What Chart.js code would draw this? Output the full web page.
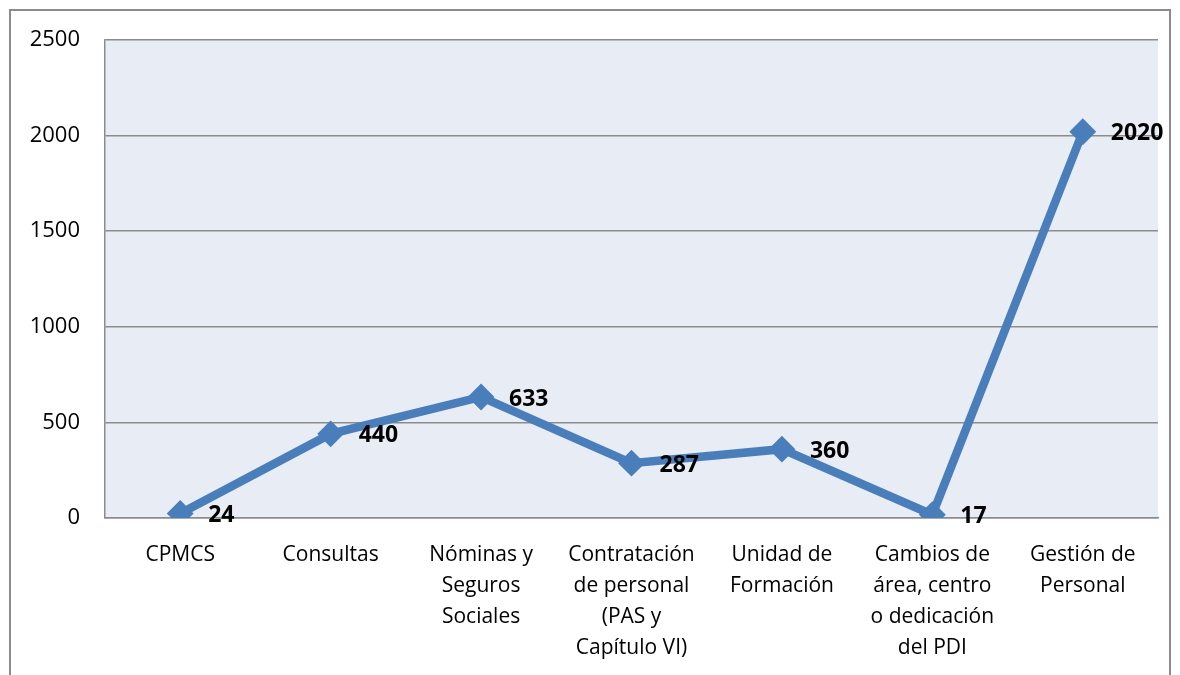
<!DOCTYPE html>
<html>
<head>
<meta charset="utf-8">
<script src="https://cdn.jsdelivr.net/npm/chart.js@4.4.1/dist/chart.umd.min.js"></script>
<style>
  html,body{margin:0;padding:0;background:#fff;}
  #wrap{position:absolute;left:0;top:0;width:1180px;height:675px;}
</style>
</head>
<body>
<div id="wrap"><canvas id="c"></canvas></div>
<script>
// datos
const categorias=[
  ['CPMCS'],
  ['Consultas'],
  ['Nóminas y','Seguros','Sociales'],
  ['Contratación','de personal','(PAS y','Capítulo VI)'],
  ['Unidad de','Formación'],
  ['Cambios de','área, centro','o dedicación','del PDI'],
  ['Gestión de','Personal']
];
const valores=[24,440,633,287,360,17,2020];
const ticksY=[0,500,1000,1500,2000,2500];

const FONT="'Open Sans', Lato, sans-serif";

// fondo del área y marco exterior
const fondo={
  id:'fondo',
  beforeDraw(chart){
    const {ctx,chartArea:a}=chart;
    ctx.save();
    ctx.strokeStyle='#8c8c8c';
    ctx.lineWidth=2;
    ctx.strokeRect(10,10,1160,700);
    ctx.fillStyle='#e8edf5';
    ctx.fillRect(a.left,a.top,a.right-a.left,a.bottom-a.top);
    ctx.restore();
  }
};

// etiquetas de datos a la derecha del punto
const etiquetas={
  id:'etiquetas',
  afterDatasetsDraw(chart){
    const {ctx}=chart;
    const meta=chart.getDatasetMeta(0);
    ctx.save();
    ctx.font="bold 23px "+FONT;
    ctx.fillStyle='#000';
    ctx.textAlign='left';
    ctx.textBaseline='middle';
    meta.data.forEach((p,i)=>{
      ctx.fillText(String(valores[i]),p.x+28,p.y+2);
    });
    ctx.restore();
  }
};

new Chart(document.getElementById('c'),{
  type:'line',
  data:{
    labels:categorias,
    datasets:[{
      data:valores,
      borderColor:'#4a7ebb',
      backgroundColor:'#4a7ebb',
      borderWidth:8.5,
      tension:0,
      pointStyle:'rectRot',
      pointRadius:12,
      pointBorderWidth:2,
      pointBackgroundColor:'#4a7ebb',
      pointBorderColor:'#4a7ebb'
    }]
  },
  options:{
    responsive:true,
    maintainAspectRatio:false,
    animation:false,
    layout:{padding:{top:40,right:22,left:0,bottom:0}},
    plugins:{legend:{display:false},tooltip:{enabled:false}},
    scales:{
      x:{
        offset:true,
        grid:{display:false,drawTicks:false},
        border:{display:true,color:'#8c8c8c',width:1.5},
        ticks:{
          color:'#000',
          font:{family:FONT,size:21,lineHeight:1.48},
          padding:21,
          maxRotation:0,
          autoSkip:false
        },
        afterFit(s){s.height=157;}
      },
      y:{
        min:0,
        max:2500,
        afterBuildTicks(s){s.ticks=ticksY.map(v=>({value:v}));},
        grid:{color:'#8c8c8c',lineWidth:1.5,drawTicks:false},
        border:{display:true,color:'#8c8c8c',width:1.5},
        ticks:{
          color:'#000',
          font:{family:FONT,size:22},
          padding:25,
          callback:v=>String(v)
        },
        afterFit(s){s.width=105;}
      }
    }
  },
  plugins:[fondo,etiquetas]
});
</script>
</body>
</html>
